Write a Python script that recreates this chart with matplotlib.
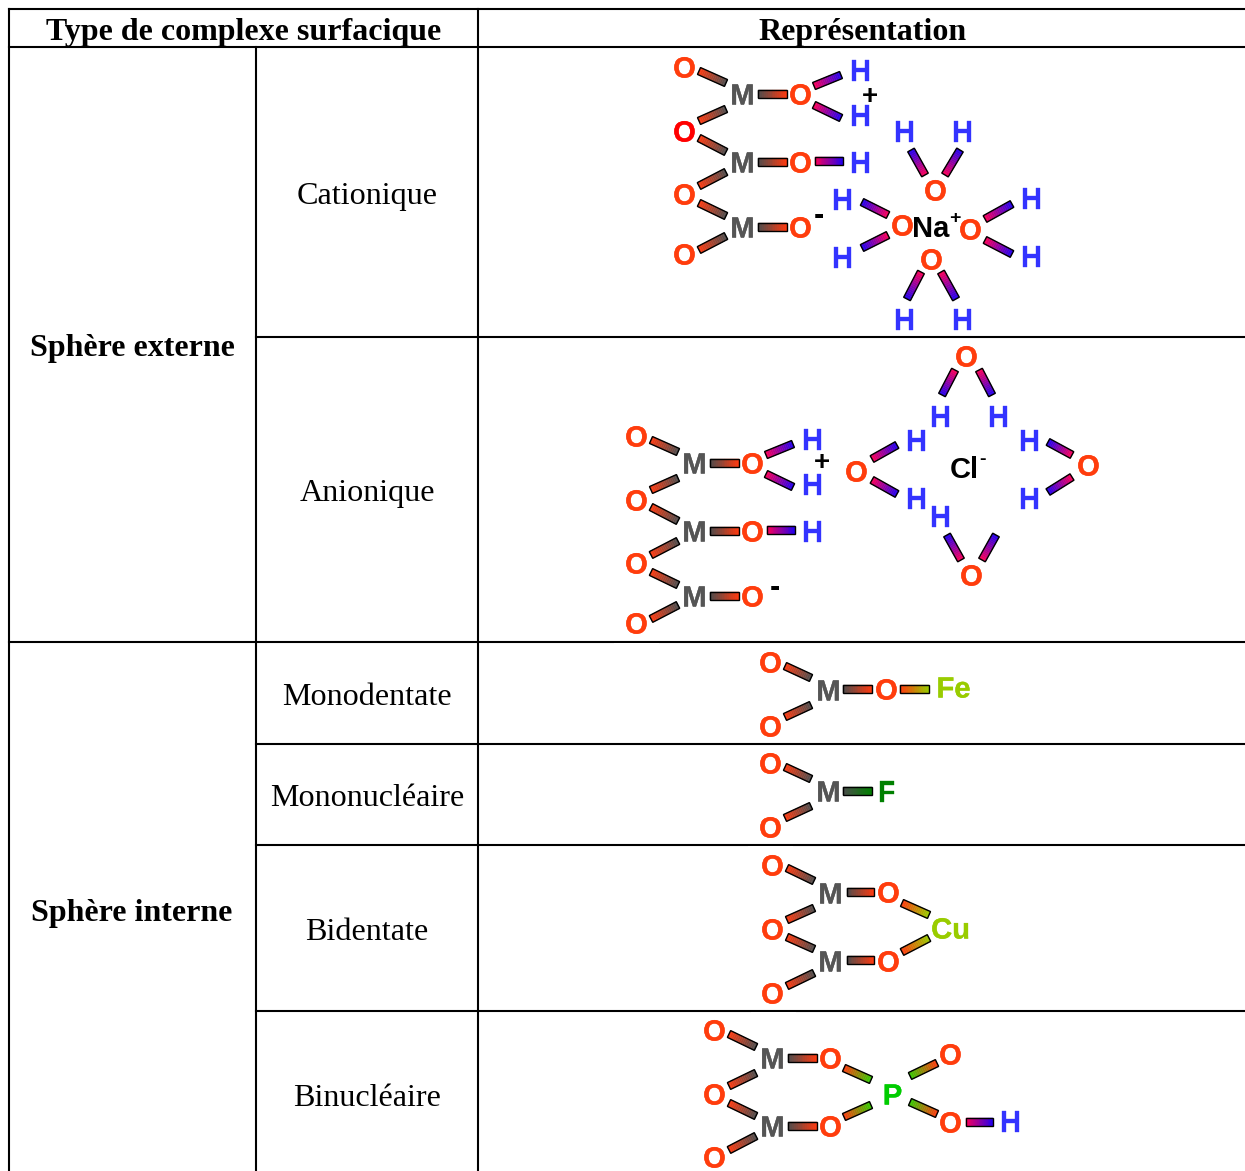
"""Table of surface complex types with ball-free molecular sketches."""

import matplotlib

matplotlib.use("Agg")

import matplotlib.patheffects as pe
import matplotlib.pyplot as plt
import numpy as np
from matplotlib.collections import PolyCollection
from matplotlib.colors import to_rgb
from matplotlib.patches import Polygon

WIDTH, HEIGHT = 1245, 1171

# --- Table text ---
HEADERS = [("Type de complexe surfacique", 243.5, 29), ("Représentation", 862.5, 29)]
GROUPS = [("Sphère externe", 132, 345), ("Sphère interne", 132, 910)]
ROWS = [
    ("Cationique", 367, 193),
    ("Anionique", 367, 490),
    ("Monodentate", 367, 694),
    ("Mononucléaire", 367, 795),
    ("Bidentate", 367, 929),
    ("Binucléaire", 367, 1095),
]

# --- Table rules: (x0, x1, y) and (x, y0, y1) ---
H_RULES = [(9, 1245, 9), (9, 1245, 47), (256, 1245, 337), (9, 1245, 642),
           (256, 1245, 744), (256, 1245, 845), (256, 1245, 1011)]
V_RULES = [(9, 9, 1171), (478, 9, 1171), (256, 47, 1171)]
# white scraps of the pasted pictures that nibble the rules: (x0, x1, y)
SCRAPS = [(614, 658, 643), (748, 792, 846), (751, 795, 1012)]

# --- Atoms: (element, x, y); bonds: (element, element, x0, y0, x1, y1) ---
# The three stacked M units are the same in both outer-sphere rows.
STACK_ATOMS = [
    ("O", 684, 67), ("M", 742, 94), ("O", 800, 94), ("H", 860, 70), ("H", 860, 115),
    ("Or", 684, 131), ("M", 742, 162), ("O", 800, 162), ("H", 860, 162),
    ("O", 684, 194), ("M", 742, 227), ("O", 800, 227), ("O", 684, 254),
]
STACK_BONDS = [
    ("O", "M", 699, 71, 726, 83), ("O", "M", 699, 121, 726, 109),
    ("M", "O", 758, 94, 787, 94), ("O", "H", 814, 86, 841, 75), ("O", "H", 814, 105, 841, 118),
    ("O", "M", 699, 138, 726, 152), ("O", "M", 699, 186, 726, 172),
    ("M", "O", 758, 162, 787, 162), ("O", "H", 815, 161, 843, 161),
    ("O", "M", 699, 203, 726, 216), ("O", "M", 699, 250, 726, 236),
    ("M", "O", 758, 227, 787, 227),
]
ANION_SHIFT = (-48, 369)

CATION_ATOMS = [
    ("O", 902, 225), ("H", 842, 199), ("H", 842, 257),
    ("O", 970, 229), ("H", 1031, 198), ("H", 1031, 256),
    ("O", 935, 190), ("H", 904, 131), ("H", 962, 131),
    ("O", 931, 259), ("H", 904, 319), ("H", 962, 319),
]
CATION_BONDS = [
    ("O", "H", 888, 215, 862, 202), ("O", "H", 888, 235, 862, 248),
    ("O", "H", 985, 219, 1012, 204), ("O", "H", 985, 240, 1012, 254),
    ("O", "H", 925, 175, 911, 150), ("O", "H", 945, 175, 960, 150),
    ("O", "H", 921, 272, 907, 299), ("O", "H", 941, 272, 956, 299),
]

ANION_ATOMS = [
    ("O", 966, 356), ("H", 940, 416), ("H", 998, 416),
    ("O", 856, 471), ("H", 916, 440), ("H", 916, 498),
    ("O", 1088, 465), ("H", 1029, 440), ("H", 1029, 498),
    ("O", 971, 575), ("H", 940, 516),
]
ANION_BONDS = [
    ("O", "H", 955, 370, 942, 395), ("O", "H", 979, 370, 992, 395),
    ("O", "H", 872, 459, 897, 445), ("O", "H", 872, 480, 897, 494),
    ("O", "H", 1072, 455, 1048, 442), ("O", "H", 1072, 477, 1048, 492),
    ("O", "H", 961, 560, 947, 535), ("O", "H", 982, 560, 996, 535),
]

MONODENTATE_ATOMS = [("O", 770, 662), ("M", 828, 690), ("O", 886, 689), ("Fe", 953, 687),
                     ("O", 770, 726)]
MONODENTATE_BONDS = [
    ("O", "M", 785, 666, 811, 678), ("O", "M", 785, 717, 811, 705),
    ("M", "O", 843, 689, 872, 689), ("O", "Fe", 900, 689, 929, 689),
]

MONONUCLEAR_ATOMS = [("O", 770, 763), ("M", 828, 791), ("F", 886, 791), ("O", 770, 827)]
MONONUCLEAR_BONDS = [
    ("O", "M", 785, 767, 811, 779), ("O", "M", 785, 818, 811, 806),
    ("M", "F", 843, 791, 872, 791),
]

BIDENTATE_ATOMS = [("O", 772, 865), ("M", 830, 893), ("O", 888, 892), ("Cu", 950, 928),
                   ("O", 772, 929), ("M", 830, 961), ("O", 888, 961), ("O", 772, 993)]
BIDENTATE_BONDS = [
    ("O", "M", 787, 868, 814, 881), ("O", "M", 787, 920, 814, 908),
    ("M", "O", 847, 892, 874, 892), ("O", "Cu", 902, 903, 929, 915),
    ("O", "M", 787, 937, 814, 949), ("O", "M", 787, 986, 814, 973),
    ("M", "O", 847, 960, 874, 960), ("O", "Cu", 902, 952, 929, 938),
]

BINUCLEAR_ATOMS = [("O", 714, 1030), ("M", 772, 1058), ("O", 830, 1058), ("P", 892, 1094),
                   ("O", 950, 1054), ("O", 950, 1122), ("H", 1010, 1121),
                   ("O", 714, 1094), ("M", 772, 1126), ("O", 830, 1126), ("O", 714, 1157)]
BINUCLEAR_BONDS = [
    ("O", "M", 729, 1034, 756, 1047), ("O", "M", 729, 1086, 756, 1073),
    ("M", "O", 788, 1058, 817, 1058), ("O", "P", 844, 1068, 871, 1080),
    ("O", "M", 729, 1103, 756, 1116), ("O", "M", 729, 1150, 756, 1136),
    ("M", "O", 788, 1126, 817, 1126), ("O", "P", 844, 1117, 871, 1105),
    ("P", "O", 910, 1076, 937, 1063), ("P", "O", 910, 1102, 937, 1114),
    ("O", "H", 966, 1122, 993, 1122),
]

# Loose labels: (label, x, y, size)
CHARGES = [
    ("+", 870, 94, 20), ("-", 819, 212, 22), ("Na", 931, 226, 21), ("+", 955, 216, 14),
    ("+", 822, 460, 20), ("-", 775, 584, 22), ("Cl", 964, 467, 21), ("-", 982, 457, 14),
]

# --- Colours ---
ATOM_COLORS = {"O": "#FF3D0D", "Or": "#FF0000", "M": "#555555", "H": "#3333FF",
               "Fe": "#99CC00", "Cu": "#99CC00", "F": "#008000", "P": "#00CC00"}
BOND_COLORS = {
    ("O", "M"): ("#FF3A10", "#4D4D4D"),
    ("M", "O"): ("#4D4D4D", "#FF3A10"),
    ("O", "H"): ("#FF0055", "#2200EE"),
    ("O", "Fe"): ("#FF3A10", "#99CC00"),
    ("O", "Cu"): ("#FF3A10", "#99CC00"),
    ("O", "P"): ("#FF3A10", "#33CC00"),
    ("P", "O"): ("#33CC00", "#FF3A10"),
    ("M", "F"): ("#4D4D4D", "#008000"),
}

BOND_WIDTH = 7.5
ATOM_SIZE = 21


def draw_bond(ax, bond, shift):
    """Draw a black-edged bar, shaded from one end to the other."""
    name_a, name_b, x0, y0, x1, y1 = bond
    start = np.array([x0 + shift[0], y0 + shift[1]], dtype=float)
    end = np.array([x1 + shift[0], y1 + shift[1]], dtype=float)
    direction = (end - start) / np.hypot(*(end - start))
    normal = np.array([-direction[1], direction[0]]) * BOND_WIDTH / 2

    c0, c1 = (np.array(to_rgb(c)) for c in BOND_COLORS[(name_a, name_b)])
    steps = np.linspace(0, 1, 16)
    quads, shades = [], []
    for s0, s1 in zip(steps[:-1], steps[1:]):
        q0, q1 = start + (end - start) * s0, start + (end - start) * s1
        quads.append([q0 - normal, q1 - normal, q1 + normal, q0 + normal])
        shades.append(c0 + (c1 - c0) * (s0 + s1) / 2)
    ax.add_collection(PolyCollection(quads, facecolors=shades, edgecolors=shades,
                                     linewidths=0.3, zorder=2))
    outline = [start - normal, end - normal, end + normal, start + normal]
    ax.add_patch(Polygon(outline, closed=True, fill=False, edgecolor="black",
                         linewidth=1.0, zorder=3))


def draw_molecule(ax, atoms, bonds, shift=(0, 0)):
    for bond in bonds:
        draw_bond(ax, bond, shift)
    for name, x, y in atoms:
        label = "O" if name == "Or" else name
        color = ATOM_COLORS[name]
        if shift != (0, 0) and name == "Or":
            color = ATOM_COLORS["O"]
        ax.text(x + shift[0] + 0.5, y + shift[1] - 0.5, label, color=color, fontsize=ATOM_SIZE,
                fontweight="bold", family="Liberation Sans", ha="center",
                va="center_baseline", zorder=4,
                path_effects=[pe.withStroke(linewidth=0.25, foreground=color)])


fig = plt.figure(figsize=(WIDTH / 100, HEIGHT / 100), dpi=100)
ax = fig.add_axes([0, 0, 1, 1])
ax.set_xlim(0, WIDTH)
ax.set_ylim(HEIGHT, 0)
ax.axis("off")

for x0, x1, y in H_RULES:
    ax.plot([x0, x1], [y, y], color="black", lw=1.5, solid_capstyle="projecting", zorder=1)
for x, y0, y1 in V_RULES:
    ax.plot([x, x], [y0, y1], color="black", lw=1.5, solid_capstyle="projecting", zorder=1)
for x0, x1, y in SCRAPS:
    ax.plot([x0, x1], [y, y], color="white", lw=0.7, zorder=1.5)

for text, x, y in HEADERS + GROUPS:
    ax.text(x, y, text, family="Liberation Serif", fontweight="bold", fontsize=23,
            ha="center", va="center_baseline")
for text, x, y in ROWS:
    ax.text(x, y, text, family="Liberation Serif", fontsize=23.1,
            ha="center", va="center_baseline")

draw_molecule(ax, STACK_ATOMS, STACK_BONDS)
draw_molecule(ax, STACK_ATOMS, STACK_BONDS, shift=ANION_SHIFT)
draw_molecule(ax, CATION_ATOMS, CATION_BONDS)
draw_molecule(ax, ANION_ATOMS, ANION_BONDS)
draw_molecule(ax, MONODENTATE_ATOMS, MONODENTATE_BONDS)
draw_molecule(ax, MONONUCLEAR_ATOMS, MONONUCLEAR_BONDS)
draw_molecule(ax, BIDENTATE_ATOMS, BIDENTATE_BONDS)
draw_molecule(ax, BINUCLEAR_ATOMS, BINUCLEAR_BONDS)

for text, x, y, size in CHARGES:
    ax.text(x, y, text, family="Liberation Sans", fontweight="bold", fontsize=size,
            color="black", ha="center", va="center_baseline", zorder=4)

fig.savefig("out.png", dpi=100)
plt.close(fig)
